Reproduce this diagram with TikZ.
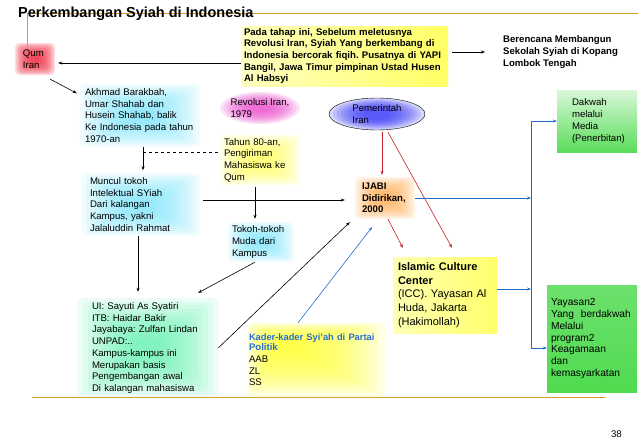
\documentclass[tikz,border=0pt]{standalone}
\usepackage{fontspec}
\setmainfont{Liberation Sans}
\usetikzlibrary{arrows.meta, positioning, calc, shapes.geometric, backgrounds}
\definecolor{rulegold}{RGB}{214,160,40}
\definecolor{linkred}{RGB}{200,30,40}
\definecolor{linkblue}{RGB}{30,110,200}
\definecolor{kaderblue}{RGB}{40,110,210}
\definecolor{qumred}{RGB}{240,50,70}
\definecolor{revpink}{RGB}{235,80,205}
\definecolor{softcyan}{RGB}{110,225,250}
\definecolor{softyellow}{RGB}{255,255,100}
\definecolor{kaderyellow}{RGB}{255,255,40}
\definecolor{pemblue}{RGB}{60,60,250}
\definecolor{pemedge}{RGB}{215,215,250}
\definecolor{ijabiorange}{RGB}{255,170,80}
\definecolor{uigreen}{RGB}{90,240,170}
\definecolor{boxgreen}{RGB}{60,215,60}

\begin{document}
\frenchspacing
\begin{tikzpicture}[x=1pt, y=-1pt,
  body/.style={font=\fontsize{9.6}{11.7}\selectfont, align=left, inner ysep=0pt},
  boldbody/.style={font=\fontsize{9.6}{11.7}\selectfont\bfseries, align=left, inner ysep=0pt},
  arr/.style={-{Stealth[length=4pt,width=3pt]}, line width=0.6pt, black},
  redarr/.style={-{Stealth[length=4pt,width=3pt]}, line width=0.6pt, linkred},
  bluearr/.style={-{Stealth[length=4pt,width=3pt]}, line width=0.6pt, linkblue},
  ]
  \useasboundingbox (0,0) rectangle (638,442);

  % Frame lines
  \draw[rulegold, line width=0.8pt] (27,47) -- (27,13) -- (638,13);
  \draw[rulegold, line width=0.8pt] (32,397) -- (605,397);
  \node[font=\fontsize{14.5}{17}\selectfont\bfseries, anchor=base west, inner sep=0] (title) at (18,17.5) {Perkembangan Syiah di Indonesia};

  % Left column
  \node[body, rounded corners=10pt, minimum width=40pt, minimum height=32pt, text width=24pt, inner xsep=8pt] (qum) at (35,59) {Qum\\Iran};
  \node[body, minimum width=120pt, minimum height=62pt, text width=110pt, inner xsep=5pt] (akh) at (140,115.5) {Akhmad Barakbah,\\Umar Shahab dan\\Husein Shahab, balik\\Ke Indonesia pada tahun\\1970-an};
  \node[body, minimum width=118pt, minimum height=62pt, text width=102pt, inner xsep=8pt] (muncul) at (141,204.5) {Muncul tokoh\\Intelektual SYiah\\Dari kalangan\\Kampus, yakni\\Jalaluddin Rahmat};
  \node[body, minimum width=140pt, minimum height=100pt, text width=112pt, inner xsep=14pt] (ui) at (148,348) {UI: Sayuti As Syatiri\\ITB: Haidar Bakir\\Jayabaya: Zulfan Lindan\\UNPAD:..\\Kampus-kampus ini\\Merupakan basis\\Pengembangan awal\\Di kalangan mahasiswa};

  % Middle column
  \node[boldbody, left color=softyellow!40!white, right color=softyellow, minimum width=207pt, minimum height=60pt, text width=201pt, inner xsep=3pt] (yapi) at (344.5,56) {Pada tahap ini, Sebelum meletusnya\\Revolusi Iran, Syiah Yang berkembang di\\Indonesia bercorak fiqih. Pusatnya di YAPI\\Bangil, Jawa Timur pimpinan Ustad Husen\\Al Habsyi};
  \node[boldbody, anchor=west, inner sep=0] (ber) at (503,52) {Berencana Membangun\\Sekolah Syiah di Kopang\\Lombok Tengah};
  \node[body, ellipse, minimum width=80pt, minimum height=32pt, inner sep=0] (rev) at (260,108) {Revolusi Iran,\\1979};
  \node[body, minimum width=80pt, minimum height=50pt, text width=72pt, inner xsep=4pt] (tahun) at (260,160) {Tahun 80-an,\\Pengiriman\\Mahasiswa ke\\Qum};
  \node[body, minimum width=66pt, minimum height=40pt, text width=58pt, inner xsep=4pt] (tokoh) at (261,242) {Tokoh-tokoh\\Muda dari\\Kampus};
  \node[body, minimum width=138pt, minimum height=74pt, text width=134pt, inner xsep=2pt] (kader) at (316,360) {\textcolor{kaderblue}{\bfseries\fontsize{9.3}{10}\selectfont Kader-kader Syi’ah di Partai}\\[-1.5pt]\textcolor{kaderblue}{\bfseries Politik}\\AAB\\ZL\\SS};

  % Right part
  \node[body, ellipse, draw=black, thin, minimum width=96pt, minimum height=32pt, inner sep=0] (pem) at (377,114) {Pemerintah\\Iran};
  \node[boldbody, minimum width=60pt, minimum height=42pt, text width=46pt, inner xsep=7pt] (ijabi) at (385,198) {IJABI\\Didirikan,\\2000};
  \node[font=\fontsize{11}{13.7}\selectfont, align=left, inner ysep=0pt, left color=softyellow!50!white, right color=softyellow!95!white, minimum width=104pt, minimum height=76pt, text width=94pt, inner xsep=5pt] (icc) at (445,295) {\textbf{Islamic Culture}\\\textbf{Center}\\(ICC). Yayasan Al\\Huda, Jakarta\\(Hakimollah)};
  \node[body, top color=boxgreen!20!white, bottom color=boxgreen!85!white, minimum width=80pt, minimum height=62pt, text width=50pt, inner xsep=15pt] (dakwah) at (597,121) {Dakwah\\melalui\\Media\\(Penerbitan)};
  \node[font=\fontsize{10.2}{11.8}\selectfont, align=left, inner ysep=0pt, top color=boxgreen!75!white, middle color=white, bottom color=boxgreen!90!white, minimum width=90pt, minimum height=107pt, text width=82pt, inner xsep=4pt] (yay) at (592,338.5) {Yayasan2\\Yang\ \ berdakwah\\Melalui\\program2\\Keagamaan\\dan\\kemasyarkatan};

  \node[body, anchor=base east, inner sep=0] (pnum) at (622,437) {38};

  % Soft glows behind the boxes
  \begin{scope}[on background layer]
    \foreach \n/\c/\o in {akh/softcyan/0.1, muncul/softcyan/0.1, tokoh/softcyan/0.1, ui/uigreen/0.11, tahun/softyellow/0.14, ijabi/ijabiorange/0.13, qum/qumred/0.17}
      \foreach \k in {0,...,11}
        \fill[\c, opacity=\o, rounded corners=5pt] ($(\n.south west)!\k*0.037!(\n.north east)$) rectangle ($(\n.north east)!\k*0.037!(\n.south west)$);
    \foreach \k in {0,...,11}
      \fill[kaderyellow, opacity=0.14, rounded corners=5pt] ($(kader.north west)!\k*0.02!(kader.south east)$) rectangle ($(kader.south east)!\k*0.057!(kader.north west)$);
    \foreach \k in {0,...,9}
      \fill[revpink, opacity=0.16] (rev.center) ellipse [x radius={40pt*(1-\k*0.08)}, y radius={16pt*(1-\k*0.08)}];
    \fill[pemedge] (pem.center) ellipse [x radius=48pt, y radius=16pt];
    \foreach \k in {1,...,9}
      \fill[pemblue, opacity=0.16] (pem.center) ellipse [x radius={48pt*(1-\k*0.08)}, y radius={16pt*(1-\k*0.07)}];
  \end{scope}

  % Blue bus
  \coordinate (bustop) at (531,121);
  \coordinate (busbot) at (531,348);

  % Black connectors
  \draw[arr, shorten >=3pt] ([yshift=-7pt]yapi.west) -- ([yshift=-7pt]yapi.west -| qum.east);
  \draw[arr, shorten <=4pt, shorten >=18pt] (yapi.east |- ber.west) -- (ber.west);
  \draw[arr] ([shift={(-5pt,-4pt)}]qum.south east) -- ([shift={(-3pt,-9pt)}]akh.north west);
  \draw[arr, shorten >=3pt] ([xshift=3pt]akh.south) -- ([xshift=3pt]akh.south |- muncul.north);
  \coordinate (dsh) at (143,152);
  \draw[dashed, line width=0.5pt] (dsh) -- (dsh -| tahun.west);
  \draw[arr, shorten <=2pt, shorten >=3pt] ([xshift=-5pt]tahun.south) -- ([xshift=-5pt]tahun.south |- tokoh.north);
  \draw[arr, shorten <=3pt, shorten >=10pt] ([yshift=-2pt]ijabi.west -| muncul.east) -- ([yshift=-2pt]ijabi.west);
  \draw[arr, shorten >=6pt] ([xshift=-3pt]muncul.south) -- ([xshift=-3pt]muncul.south |- ui.north);
  \draw[arr] ([xshift=-6pt]tokoh.south) -- ([shift={(-20pt,5pt)}]ui.north east);
  \draw[arr] (ui.east) -- ([shift={(-5pt,-3pt)}]ijabi.south west);
  \draw[bluearr] ([xshift=-18pt]kader.north) -- ([shift={(-13pt,-8pt)}]ijabi.south);

  % Red connectors
  \draw[redarr, shorten <=2pt, shorten >=2pt] ([xshift=5pt]pem.south) -- ([xshift=5pt]pem.south |- ijabi.north);
  \draw[redarr] ([shift={(11pt,-2pt)}]pem.south) -- ([shift={(7pt,9pt)}]icc.north);
  \draw[redarr] ([xshift=3pt]ijabi.south) -- ([shift={(10pt,9pt)}]icc.north west);

  % Blue connectors
  \draw[linkblue, line width=0.6pt] (bustop) -- (busbot);
  \draw[bluearr] (ijabi.east) -- (ijabi.east -| bustop);
  \draw[bluearr] ([yshift=6pt]icc.east) -- ([yshift=6pt]icc.east -| bustop);
  \draw[bluearr] (bustop) -- (bustop -| dakwah.west);
  \draw[bluearr] (busbot) -- (busbot -| yay.west);
\end{tikzpicture}
\end{document}
